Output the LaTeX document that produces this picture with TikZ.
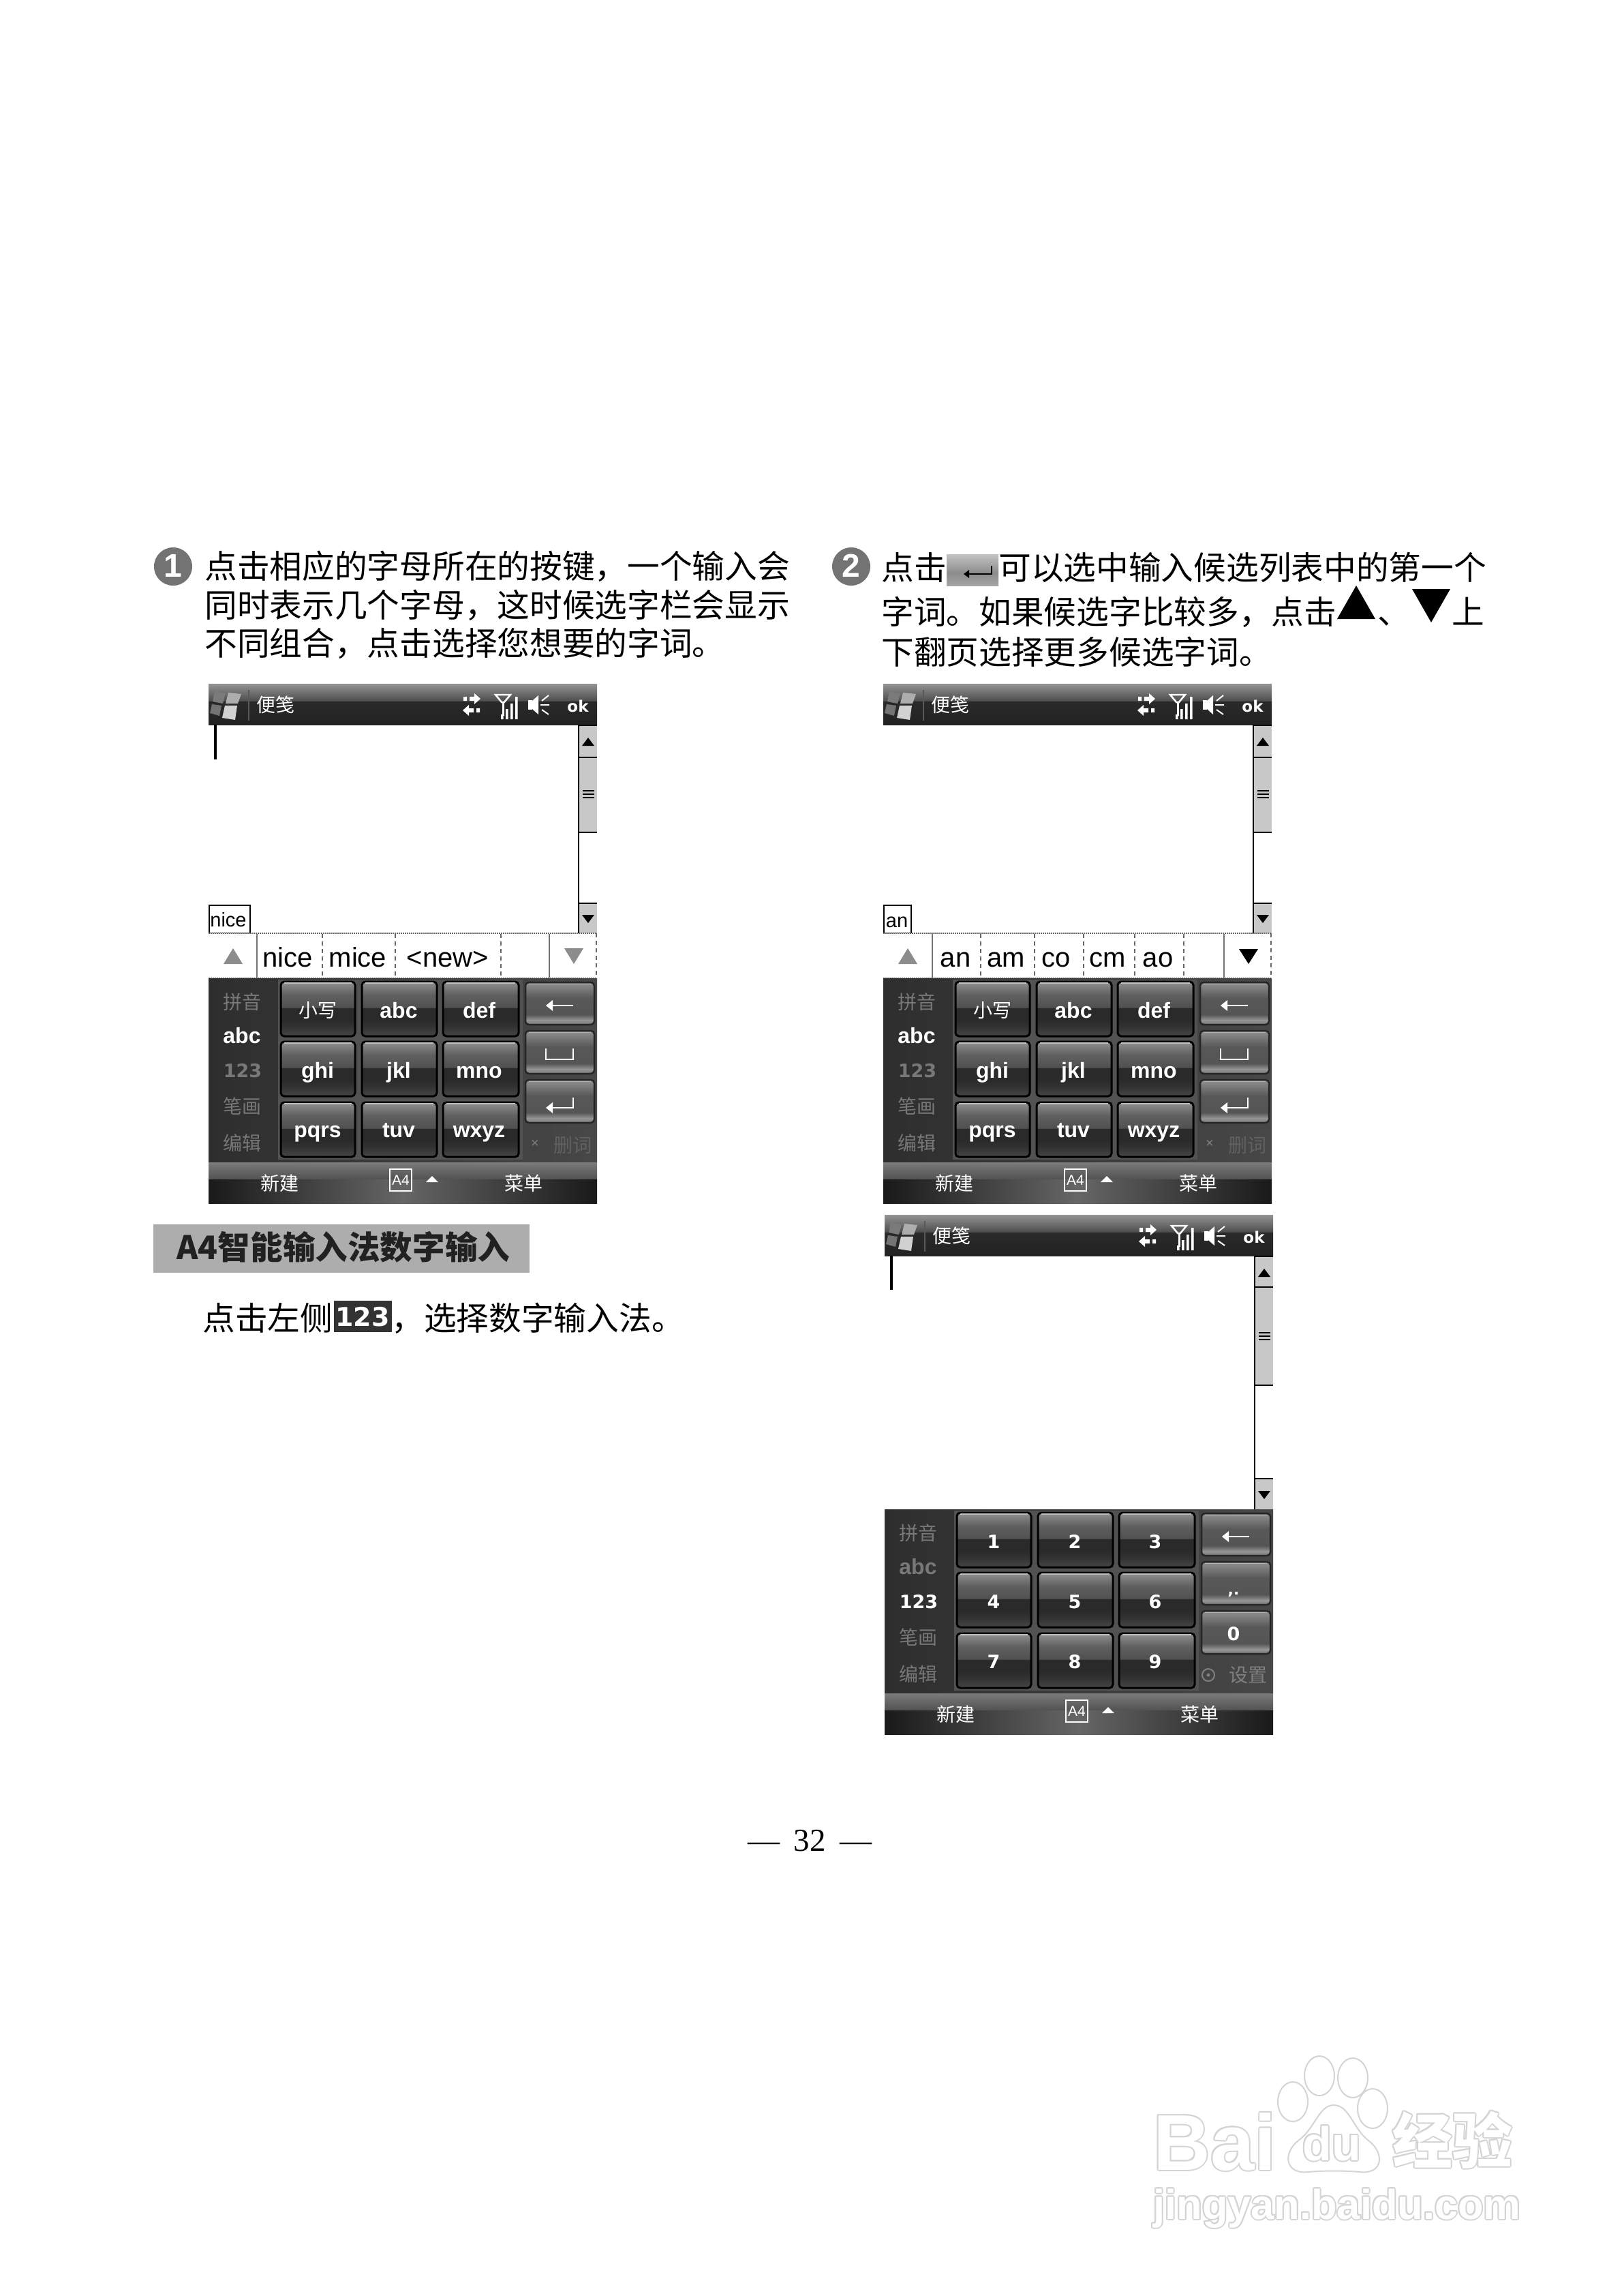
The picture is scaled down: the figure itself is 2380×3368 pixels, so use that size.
\documentclass[tikz,border=0pt]{standalone}
\usepackage{fontspec}
\setmainfont{Noto Sans CJK SC}
\newfontfamily\fntL{Liberation Sans}
\newfontfamily\fntD{DejaVu Sans}
\newfontfamily\fntS{Liberation Serif}
\definecolor{dimtxt}{HTML}{787878}
\definecolor{hdr}{HTML}{ADADAD}
\definecolor{scr}{HTML}{C8C8C8}
\definecolor{wm}{HTML}{D4D4D4}
\pgfdeclareverticalshading{keysh}{100bp}{color(0bp)=(rgb:black,1);color(25bp)=(rgb,255:red,70;green,70;blue,70);color(34bp)=(rgb,255:red,50;green,50;blue,50);color(40bp)=(rgb,255:red,42;green,42;blue,42);color(51bp)=(rgb,255:red,42;green,42;blue,42);color(51.2bp)=(rgb,255:red,80;green,80;blue,80);color(63bp)=(rgb,255:red,96;green,96;blue,96);color(75bp)=(rgb,255:red,145;green,145;blue,145);color(100bp)=(rgb,255:red,145;green,145;blue,145)}
\pgfdeclareverticalshading{rkeysh}{100bp}{color(0bp)=(rgb,255:red,110;green,110;blue,110);color(25bp)=(rgb,255:red,110;green,110;blue,110);color(30bp)=(rgb,255:red,150;green,150;blue,150);color(37bp)=(rgb,255:red,85;green,85;blue,85);color(56bp)=(rgb,255:red,88;green,88;blue,88);color(56.2bp)=(rgb,255:red,88;green,88;blue,88);color(75bp)=(rgb,255:red,145;green,145;blue,145);color(100bp)=(rgb,255:red,145;green,145;blue,145)}
\pgfdeclareverticalshading{titlesh}{100bp}{color(0bp)=(rgb,255:red,34;green,34;blue,34);color(25bp)=(rgb,255:red,34;green,34;blue,34);color(54bp)=(rgb,255:red,42;green,42;blue,42);color(54.2bp)=(rgb,255:red,78;green,78;blue,78);color(75bp)=(rgb,255:red,148;green,148;blue,148);color(100bp)=(rgb,255:red,148;green,148;blue,148)}
\pgfdeclareverticalshading{btnsh}{100bp}{color(0bp)=(rgb,255:red,165;green,165;blue,165);color(25bp)=(rgb,255:red,165;green,165;blue,165);color(45bp)=(rgb,255:red,140;green,140;blue,140);color(75bp)=(rgb,255:red,195;green,195;blue,195);color(100bp)=(rgb,255:red,195;green,195;blue,195)}
\tikzset{
  x=0.5pt,y=-0.5pt,
  txt/.style={anchor=base west,inner sep=0pt,font=\fontsize{23.85}{28}\selectfont},
  keylabel/.style={anchor=base,inner sep=0pt,text=white,font=\fntL\bfseries\fontsize{16}{18}\selectfont},
  keydigit/.style={anchor=base,inner sep=0pt,text=white,font=\fntD\bfseries\fontsize{13.5}{16}\selectfont},
  keycjk/.style={anchor=center,inner sep=0pt,text=white,font=\fontsize{14}{16}\selectfont},
  sidecjk/.style={anchor=center,inner sep=0pt,text=#1,font=\fontsize{14}{16}\selectfont},
  sidelat/.style={anchor=base,inner sep=0pt,text=#1,font=\fntL\bfseries\fontsize{16}{18}\selectfont},
  sidenum/.style={anchor=base,inner sep=0pt,text=#1,font=\fntD\bfseries\fontsize{13.5}{16}\selectfont},
  cand/.style={anchor=base,inner sep=0pt,font=\fntL\fontsize{20}{23}\selectfont},
  mainkeybox/.style={draw=black,line width=1.5pt,rounded corners=2.5pt,shade,shading=keysh},
  rkeybox/.style={draw=black!85,line width=1.25pt,rounded corners=2.5pt,shade,shading=rkeysh},
  wicon/.style={white,line width=1pt},
  soliddiv/.style={draw=black!55,line width=1pt},
  dashdiv/.style={draw=black!60,line width=1pt,dash pattern=on 3pt off 2.5pt},
  wmtext/.style={inner sep=0pt,anchor=base west},
}
% ---------- title bar (phone coordinates)
\newcommand\titlebar[1]{%
  \path[shade,shading=titlesh] (306,1003) rectangle (876,1063);
  \fill[black!52] (315,1014)--(331,1017)--(327,1032)--(312,1029)--cycle;
  \fill[black!32] (335,1016)--(354,1018)--(349,1032)--(331,1032)--cycle;
  \fill[black!55] (311,1033)--(325,1035)--(322,1050)--(308,1046)--cycle;
  \fill[black!18] (330,1035)--(348,1035)--(345,1056)--(326,1053)--cycle;
  \draw[black!65,line width=1pt] (365,1012)--(365,1057);
  \node[keycjk] (#1-title) at (404,1034) {便笺};
  % sync arrows
  \fill[white] (680,1022) rectangle (685,1028) (689,1022) rectangle (696,1028);
  \fill[white] (696,1017)--(705,1025)--(696,1033)--cycle;
  \fill[white] (699,1039) rectangle (704,1045) (688,1039) rectangle (695,1045);
  \fill[white] (688,1034)--(679,1042)--(688,1050)--cycle;
  % signal
  \draw[wicon,line width=1.25pt] (727,1019)--(749,1019)--(740,1030)--(736,1030)--cycle;
  \fill[white] (736.5,1030) rectangle (739.5,1050);
  \fill[white] (735,1048) rectangle (738.5,1055) (742,1040) rectangle (745.5,1055) (749,1032) rectangle (752.5,1055) (756,1022) rectangle (759.5,1055);
  % speaker
  \fill[white] (775,1027) rectangle (781,1041);
  \fill[white] (781,1028)--(790,1020)--(790,1048)--(781,1040)--cycle;
  \draw[wicon] (795,1028)--(805,1020) (793,1034)--(806,1034) (795,1041)--(805,1048);
  \node[keydigit,font=\fntD\bfseries\fontsize{11.5}{14}\selectfont] (#1-ok) at (848,1044) {ok};
}
% ---------- scroll bar: up-end, thumb-end, down-top, bottom, thumb-lines y
\newcommand\scrollbar[5]{%
  \fill[scr] (849,1063) rectangle (876,#1);
  \fill[scr] (849,#1) rectangle (876,#2);
  \fill[scr] (849,#3) rectangle (876,#4);
  \draw[black,line width=1.25pt] (849,1063)--(849,#4);
  \draw[black,line width=1.25pt] (849,1064)--(876,1064) (849,#1)--(876,#1) (849,#2)--(876,#2) (849,#3)--(876,#3);
  \fill[black] (863,1082)--(872,1094)--(854,1094)--cycle;
  \fill[black] (854,#4-27)--(872,#4-27)--(863,#4-15)--cycle;
  \draw[black,line width=1pt] (855,#5-5)--(872,#5-5) (855,#5)--(872,#5) (855,#5+5)--(872,#5+5);
}
% ---------- keyboard frame
\newcommand\kbframe{%
  \path[left color=black!82,right color=black!72] (306,1435) rectangle (876,1705);
  \fill[black!68] (408,1437) rectangle (767,1701);
}
\newcommand\bottombar[1]{%
  \path[top color=black!52,bottom color=black!68] (306,1705) rectangle (876,1730);
  \path[left color=black!90,right color=black!90,middle color=black!60] (306,1730) rectangle (876,1765);
  \node[keycjk] (#1-new) at (410,1736) {新建};
  \node[keycjk] (#1-menu) at (768,1736) {菜单};
  \draw[white,line width=1.25pt] (572,1715) rectangle (604,1747);
  \node[anchor=center,inner sep=0pt,text=white,font=\fntL\fontsize{10.5}{12}\selectfont] (#1-a4) at (588,1731) {A4};
  \fill[white] (634,1725)--(643,1734)--(625,1734)--cycle;
}
\newcommand\keygrid{%
  \foreach \ya/\yb in {1440/1520,1528/1608,1617/1697}{
    \foreach \xa/\xb in {412/521,531/641,650/761}{
      \path[mainkeybox] (\xa,\ya) rectangle (\xb,\yb);
      \draw[black!25,line width=0.6pt] (\xa+5,\ya+2)--(\xb-5,\ya+2);
    }
  }
  \foreach \ya/\yb in {1441/1503,1512/1575,1584/1647}{
    \path[rkeybox] (771,\ya) rectangle (872,\yb);
    \draw[black!30,line width=0.5pt] (776,\ya+2)--(867,\ya+2);
  }
  \draw[white,line width=1pt] (807,1475)--(841,1475);
  \fill[white] (801,1475)--(811,1467)--(811,1483)--cycle;
}
\newcommand\sidecol[3]{%
  \node[sidecjk=dimtxt] (#1-s1) at (355,1470) {拼音};
  \node[sidelat=#2] (#1-s2) at (355,1530) {abc};
  \node[sidenum=#3] (#1-s3) at (356,1580) {123};
  \node[sidecjk=dimtxt] (#1-s4) at (355,1623) {笔画};
  \node[sidecjk=dimtxt] (#1-s5) at (355,1677) {编辑};
}
\newcommand\abclabels[1]{%
  \node[keycjk] (#1-k1) at (466,1482) {小写};
  \node[keylabel] (#1-k2) at (585,1493) {abc};
  \node[keylabel] (#1-k3) at (703,1493) {def};
  \node[keylabel] (#1-k4) at (466,1581) {ghi};
  \node[keylabel] (#1-k5) at (585,1581) {jkl};
  \node[keylabel] (#1-k6) at (703,1581) {mno};
  \node[keylabel] (#1-k7) at (466,1668) {pqrs};
  \node[keylabel] (#1-k8) at (585,1668) {tuv};
  \node[keylabel] (#1-k9) at (703,1668) {wxyz};
  \draw[white,line width=1pt] (801,1538)--(801,1554)--(841,1554)--(841,1538);
  \draw[white,line width=1pt] (841,1610)--(841,1625)--(807,1625);
  \fill[white] (801,1625)--(811,1617)--(811,1633)--cycle;
  \node[anchor=center,inner sep=0pt,text=black!50,font=\fntL\fontsize{10}{12}\selectfont] (#1-x) at (785,1678) {×};
  \node[anchor=center,inner sep=0pt,text=black!62,font=\fontsize{14}{16}\selectfont] (#1-del) at (840,1680) {删词};
}
\newcommand\wmnode[5]{% name, x, y, font, text
  \foreach \dx/\dy in {-2/0,2/0,0/-2,0/2,-1.5/-1.5,1.5/-1.5,-1.5/1.5,1.5/1.5}{
    \node[wmtext,text=wm,font=#4] at (#2+\dx,#3+\dy) {#5};
  }
  \node[wmtext,text=white,font=#4] (#1) at (#2,#3) {#5};
}
\begin{document}
\begin{tikzpicture}
\useasboundingbox (0,0) rectangle (2380,3368);
\fill[white] (0,0) rectangle (2380,3368);

% --- paragraph 1
\fill[black!55] (254,831) circle[radius=28];
\node[anchor=center,inner sep=0pt,text=white,font=\fntL\bfseries\fontsize{24}{28}\selectfont] (badge1) at (254,830) {1};
\node[txt] (p1a) at (300,848.5) {点击相应的字母所在的按键，一个输入会};
\node[txt] (p1b) at (300,905.5) {同时表示几个字母，这时候选字栏会显示};
\node[txt] (p1c) at (300,961) {不同组合，点击选择您想要的字词。};

% --- paragraph 2
\fill[black!55] (1249,831) circle[radius=28];
\node[anchor=center,inner sep=0pt,text=white,font=\fntL\bfseries\fontsize{24}{28}\selectfont] (badge2) at (1249,830) {2};
\node[txt] (p2a) at (1293,850) {点击};
\path[shade,shading=btnsh] (1389,813) rectangle (1465,859);
\draw[black,line width=1pt] (1455,830)--(1455,842)--(1419,842);
\fill[black] (1414,842)--(1422,836)--(1422,848)--cycle;
\node[txt] (p2b) at (1465,850) {可以选中输入候选列表中的第一个};
\node[txt] (p2c) at (1293,915) {字词。如果候选字比较多，点击};
\fill[black] (1990,859)--(2018,908)--(1962,908)--cycle;
\node[txt] (p2d) at (2021,915) {、};
\fill[black] (2072,864)--(2128,864)--(2100,913)--cycle;
\node[txt] (p2e) at (2130,915) {上};
\node[txt] (p2f) at (1293,974) {下翻页选择更多候选字词。};

% --- phone 1
\begin{scope}
  \titlebar{a}
  \scrollbar{1111}{1221}{1325}{1369}{1165}
  \draw[black,line width=2pt] (316,1063)--(316,1114);
  \draw[black,line width=1.25pt] (307,1328) rectangle (367,1369);
  \node[cand,font=\fntL\fontsize{14.5}{18}\selectfont] (a-pre) at (335,1359) {nice};
  \fill[white] (306,1369) rectangle (876,1435);
  \draw[dashdiv,dash pattern=on 1pt off 0.5pt,line width=1.25pt] (306,1369)--(876,1369) (306,1435)--(876,1435);
  \draw[dashdiv,line width=0.75pt] (875,1369)--(875,1435);
  \draw[soliddiv] (377,1370)--(377,1434) (806,1370)--(806,1434);
  \draw[dashdiv] (472.5,1370)--(472.5,1434) (580,1370)--(580,1434) (735,1370)--(735,1434);
  \fill[black!45] (342,1391)--(356,1414)--(328,1414)--cycle;
  \fill[black!45] (828,1391)--(856,1391)--(842,1414)--cycle;
  \node[cand] (a-c1) at (422,1418) {nice};
  \node[cand] (a-c2) at (525,1418) {mice};
  \node[cand] (a-c3) at (657,1418) {<new>};
  \kbframe
  \sidecol{a}{white}{dimtxt}
  \keygrid
  \abclabels{a}
  \bottombar{a}
\end{scope}

% --- phone 2
\begin{scope}[shift={(990,0)}]
  \titlebar{b}
  \scrollbar{1111}{1221}{1325}{1369}{1165}
  \draw[black,line width=1.25pt] (307,1328) rectangle (347,1369);
  \node[cand,font=\fntL\fontsize{14.5}{18}\selectfont] (b-pre) at (326,1360) {an};
  \fill[white] (306,1369) rectangle (876,1435);
  \draw[dashdiv,dash pattern=on 1pt off 0.5pt,line width=1.25pt] (306,1369)--(876,1369) (306,1435)--(876,1435);
  \draw[dashdiv,line width=0.75pt] (875,1369)--(875,1435);
  \draw[soliddiv] (378,1370)--(378,1434) (806,1370)--(806,1434);
  \draw[dashdiv] (449,1370)--(449,1434) (528,1370)--(528,1434) (599.5,1370)--(599.5,1434) (675,1370)--(675,1434) (747,1370)--(747,1434);
  \fill[black!45] (342,1391)--(356,1414)--(328,1414)--cycle;
  \fill[black] (828,1392)--(856,1392)--(842,1414)--cycle;
  \node[cand] (b-c1) at (412,1418) {an};
  \node[cand] (b-c2) at (486,1418) {am};
  \node[cand] (b-c3) at (560,1418) {co};
  \node[cand] (b-c4) at (635,1418) {cm};
  \node[cand] (b-c5) at (709,1418) {ao};
  \kbframe
  \sidecol{b}{white}{dimtxt}
  \keygrid
  \abclabels{b}
  \bottombar{b}
\end{scope}

% --- phone 3
\begin{scope}[shift={(992,779)}]
  \titlebar{c}
  \scrollbar{1109}{1253}{1390}{1435}{1181}
  \draw[black,line width=2pt] (316,1063)--(316,1113);
  \kbframe
  \sidecol{c}{dimtxt}{white}
  \keygrid
  \node[keydigit] (c-k1) at (466,1492) {1};
  \node[keydigit] (c-k2) at (585,1492) {2};
  \node[keydigit] (c-k3) at (703,1492) {3};
  \node[keydigit] (c-k4) at (466,1580) {4};
  \node[keydigit] (c-k5) at (585,1580) {5};
  \node[keydigit] (c-k6) at (703,1580) {6};
  \node[keydigit] (c-k7) at (466,1668) {7};
  \node[keydigit] (c-k8) at (585,1668) {8};
  \node[keydigit] (c-k9) at (703,1668) {9};
  \node[keydigit] (c-k0) at (818,1627) {0};
  \node[keydigit,font=\fntD\bfseries\fontsize{11}{13}\selectfont] (c-kp) at (818,1560) {,.};
  \draw[black!50,line width=1pt] (781,1678) circle[radius=9];
  \fill[black!50] (781,1678) circle[radius=2.5];
  \node[anchor=center,inner sep=0pt,text=black!50,font=\fontsize{14}{16}\selectfont] (c-set) at (839,1678) {设置};
  \bottombar{c}
\end{scope}

% --- section heading
\fill[hdr] (225,1796) rectangle (777,1867);
\node[anchor=base west,inner sep=0pt,text=black!87,font=\bfseries\fontsize{23.8}{28}\selectfont] (head) at (259,1847) {A4智能输入法数字输入};

% --- body line
\node[txt] (p3a) at (297,1951) {点击左侧};
\fill[black!80] (490,1908) rectangle (575,1954);
\node[anchor=base,inner sep=0pt,text=white,font=\fntD\bfseries\fontsize{19}{22}\selectfont] (p3b) at (532,1945) {123};
\node[txt] (p3c) at (574,1951) {，选择数字输入法。};

% --- page number
\node[anchor=base,inner sep=0pt,font=\fntS\fontsize{23.5}{28}\selectfont] (pageno) at (1188.5,2715) {—\hspace{10.5pt}32\hspace{10.5pt}—};

% --- watermark
\wmnode{wm1}{1692}{3183}{\fntL\bfseries\fontsize{58}{60}\selectfont}{Bai}
\foreach \cx/\cy in {1897/3083,1936/3045,1985/3048,2014/3093}{
  \draw[wm,fill=white,line width=1pt] (\cx,\cy) ellipse[x radius=22,y radius=29];
}
\draw[wm,fill=white,line width=1pt] (1957,3088) .. controls (1935,3088) and (1930,3122) .. (1905,3140) .. controls (1882,3158) and (1885,3190) .. (1920,3186) .. controls (1940,3184) and (1975,3184) .. (1995,3186) .. controls (2030,3190) and (2032,3158) .. (2008,3140) .. controls (1985,3122) and (1980,3088) .. (1957,3088) -- cycle;
\wmnode{wm2}{1911}{3169}{\fntL\bfseries\fontsize{35}{38}\selectfont}{du}
\wmnode{wm3}{2043}{3173}{\bfseries\fontsize{44}{48}\selectfont}{经验}
\wmnode{wm4}{1692}{3255}{\fntL\bfseries\fontsize{30.7}{34}\selectfont}{jingyan.baidu.com}
\end{tikzpicture}
\end{document}
